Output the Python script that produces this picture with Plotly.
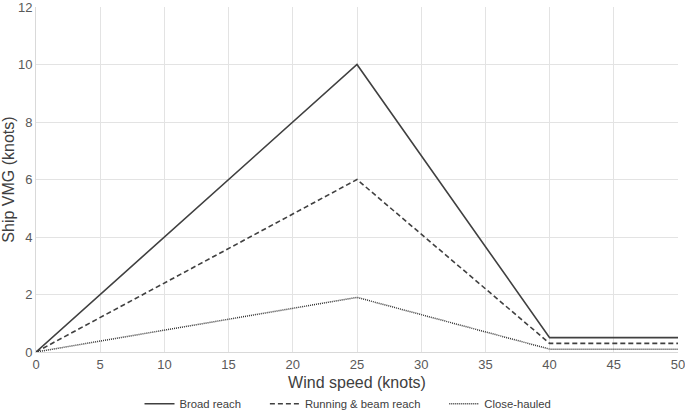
import plotly.graph_objects as go

wind_speed = [0, 25, 40, 50]
broad_reach = [0, 10, 0.5, 0.5]
running_beam = [0, 6, 0.3, 0.3]
close_hauled = [0, 1.9, 0.1, 0.1]

gap = "\u00a0" * 6
series = [
    ("Broad reach" + gap, broad_reach, "solid", 1.6, "#404040"),
    ("Running & beam reach" + gap, running_beam, "5px,3px", 1.6, "#404040"),
    ("Close-hauled", close_hauled, "1px,1px", 1.5, "#333333"),
]

fig = go.Figure()
for name, vals, dash, w, col in series:
    fig.add_trace(go.Scatter(
        x=wind_speed, y=vals, mode="lines", name=name,
        line=dict(color=col, width=w, dash=dash),
    ))

fig.update_layout(
    width=685, height=412,
    margin=dict(l=36, r=7, t=7, b=60, autoexpand=False),
    plot_bgcolor="white", paper_bgcolor="white",
    font=dict(family="Liberation Sans, Arial, sans-serif", color="#595959", size=13),
    showlegend=True,
    legend=dict(orientation="h", x=0.486, xanchor="center", y=-0.15, yanchor="middle",
                itemwidth=30, font=dict(size=11.3, color="#404040")),
    xaxis=dict(
        range=[0, 50], dtick=5, showgrid=True, gridcolor="#e3e3e3",
        showline=True, linecolor="#d9d9d9", zeroline=False, ticks="",
        automargin=False, ticklabeloverflow="allow",
        title=dict(text="Wind speed (knots)", font=dict(size=16, color="#404040"), standoff=6),
    ),
    yaxis=dict(
        range=[0, 12], dtick=2, showgrid=True, gridcolor="#e3e3e3",
        showline=True, linecolor="#d9d9d9", zeroline=False, ticks="",
        automargin=False, ticklabeloverflow="allow",
        title=dict(text="Ship VMG (knots)", font=dict(size=16, color="#404040"), standoff=4),
    ),
)

# the page's default body margin shifts the figure; drop it
fig.write_html("out.html", config={"displayModeBar": False},
               post_script="document.body.style.margin='0';")
